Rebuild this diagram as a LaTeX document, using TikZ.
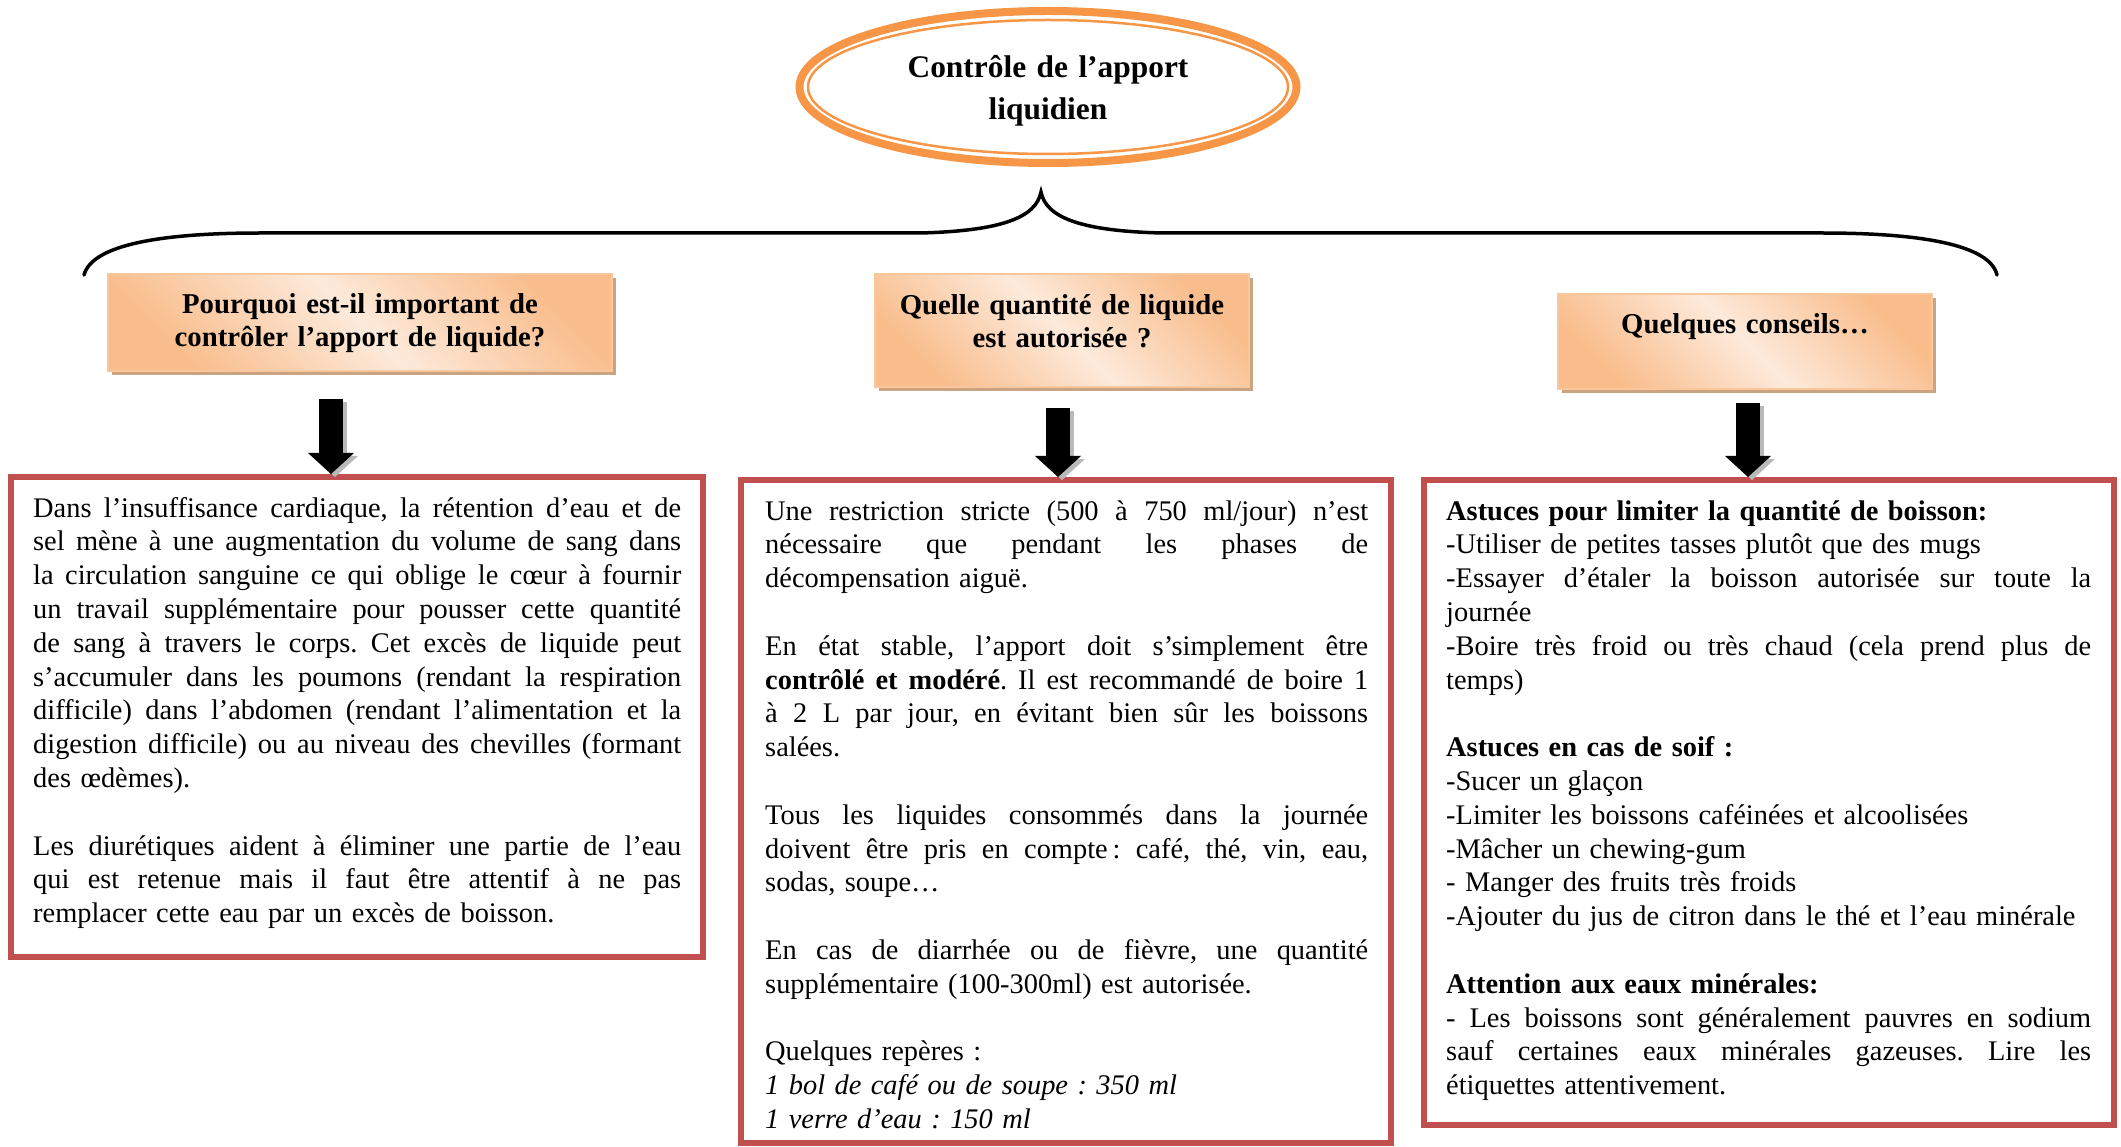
\documentclass[tikz,border=0pt]{standalone}
\usepackage{fontspec}
\setmainfont{Liberation Serif}
\usetikzlibrary{shapes.geometric,arrows.meta,shadows}
\definecolor{redb}{HTML}{C0504D}
\definecolor{orl}{HTML}{F79646}
\definecolor{hdor}{HTML}{F9BD8C}
\definecolor{hdlt}{HTML}{FDEADB}
\definecolor{hdbd}{HTML}{FAC79C}
\definecolor{shd}{HTML}{C49A74}
\newcommand\jline[1]{\noindent\hbox to\hsize{\spaceskip=\fontdimen2\font plus 1fil\relax\xspaceskip=\spaceskip #1}\par}
\newcommand\lline[1]{\noindent #1\par}
\newcommand\bline{\noindent\strut\par}
\newcommand\bodysize{\fontsize{28.4pt}{33.8pt}\selectfont}
\newcommand\hdrsize{\fontsize{28.75pt}{33.8pt}\selectfont}
\newcommand\titlesize{\fontsize{31.4pt}{42pt}\selectfont\bfseries}
\tikzset{
 redbox/.style={draw=redb, line width=6pt, inner sep=0pt},
 hdrbox/.style={draw=hdbd, line width=1.5pt, inner sep=0pt, top color=hdor, bottom color=hdor, middle color=hdlt, shading angle=-45,
   drop shadow={shadow xshift=4pt, shadow yshift=-4pt, fill=shd, opacity=0.9}},
 hdrtext/.style={anchor=north, inner sep=0pt, align=center, font=\hdrsize\bfseries},
 bodytext/.style={anchor=north west, inner sep=0pt, font=\bodysize, execute at begin node={\setlength{\parskip}{0pt}\frenchspacing}},
 blockarr/.style={line width=24pt, -{Triangle[width=46pt,length=21pt,line width=0pt]}},
 arrshadow/.style={blockarr, draw=gray!55, transform canvas={shift={(4pt,-3pt)}}},
 bracestyle/.style={line width=3.5pt, line cap=round},
}
\begin{document}
\begin{tikzpicture}[x=1pt,y=-1pt]
\useasboundingbox (0,0) rectangle (2121,1147);
% title
\node[ellipse, draw=orl, line width=8pt, fill=white, minimum width=497pt, minimum height=152pt, inner sep=0pt] (title) at (1048,87) {};
\draw[orl, line width=2.5pt] (title.center) ellipse [x radius=240, y radius=67];
\node[font=\titlesize, align=center, text width=420pt, anchor=north, inner sep=0pt] (ttl) at (1048,47.6) {\strut Contrôle de l’apport\\liquidien};
% brace
\draw[bracestyle] (84,275) .. controls (92,245) and (160,233) .. (260,233) -- (920,233)
  .. controls (1000,231) and (1036,218) .. (1041,192)
  .. controls (1046,218) and (1082,231) .. (1162,233) -- (1822,233)
  .. controls (1922,233) and (1990,245) .. (1997,275);
% header boxes
\node[hdrbox, minimum width=504pt, minimum height=97pt] (h1) at (360,322.5) {};
\node[hdrbox, minimum width=374pt, minimum height=113pt] (h2) at (1062,330.5) {};
\node[hdrbox, minimum width=374pt, minimum height=95pt] (h3) at (1745,341.5) {};
\node[hdrtext, text width=480pt] (ht1) at (360,289.3) {\strut Pourquoi est-il important de\\contrôler l’apport de liquide?};
\node[hdrtext, text width=370pt] (ht2) at (1062,290.3) {\strut Quelle quantité de liquide\\est autorisée ?};
\node[hdrtext, text width=370pt] (ht3) at (1745,309.3) {\strut Quelques conseils…};
% content boxes
\node[redbox, minimum width=692pt, minimum height=480pt] (c1) at (357,717) {};
\node[redbox, minimum width=650pt, minimum height=663pt] (c2) at (1066,811.5) {};
\node[redbox, minimum width=690pt, minimum height=645pt] (c3) at (1769,802.5) {};
% arrows
\coordinate (a1s) at (331,399);
\coordinate (a2s) at (1058,408);
\coordinate (a3s) at (1748,403);
\draw[arrshadow] (a1s) -- (a1s |- c1.north);
\draw[arrshadow] (a2s) -- (a2s |- c2.north);
\draw[arrshadow] (a3s) -- (a3s |- c3.north);
\draw[blockarr] (a1s) -- (a1s |- c1.north);
\draw[blockarr] (a2s) -- (a2s |- c2.north);
\draw[blockarr] (a3s) -- (a3s |- c3.north);
% texts
\node[bodytext, text width=648pt] (t1) at (33,493.3) {%
\jline{\strut Dans l’insuffisance cardiaque, la rétention d’eau et de}
\jline{sel mène à une augmentation du volume de sang dans}
\jline{la circulation sanguine ce qui oblige le cœur à fournir}
\jline{un travail supplémentaire pour pousser cette quantité}
\jline{de sang à travers le corps. Cet excès de liquide peut}
\jline{s’accumuler dans les poumons (rendant la respiration}
\jline{difficile) dans l’abdomen (rendant l’alimentation et la}
\jline{digestion difficile) ou au niveau des chevilles (formant}
\lline{des œdèmes).}
\bline
\jline{Les diurétiques aident à éliminer une partie de l’eau}
\jline{qui est retenue mais il faut être attentif à ne pas}
\lline{remplacer cette eau par un excès de boisson.}};
\node[bodytext, text width=603pt] (t2) at (765,496.3) {%
\jline{\strut Une restriction stricte (500 à 750 ml/jour) n’est}
\jline{nécessaire que pendant les phases de}
\lline{décompensation aiguë.}
\bline
\jline{En état stable, l’apport doit s’simplement être}
\jline{\textbf{contrôlé et modéré}. Il est recommandé de boire 1}
\jline{à 2 L par jour, en évitant bien sûr les boissons}
\lline{salées.}
\bline
\jline{Tous les liquides consommés dans la journée}
\jline{doivent être pris en compte\,: café, thé, vin, eau,}
\lline{sodas, soupe…}
\bline
\jline{En cas de diarrhée ou de fièvre, une quantité}
\lline{supplémentaire (100-300ml) est autorisée.}
\bline
\lline{Quelques repères :}
\lline{\textit{1 bol de café ou de soupe : 350 ml}}
\lline{\textit{1 verre d’eau : 150 ml}}};
\node[bodytext, text width=645pt] (t3) at (1446,496.3) {%
\lline{\strut\textbf{Astuces pour limiter la quantité de boisson:}}
\lline{-Utiliser de petites tasses plutôt que des mugs}
\jline{-Essayer d’étaler la boisson autorisée sur toute la}
\lline{journée}
\jline{-Boire très froid ou très chaud (cela prend plus de}
\lline{temps)}
\bline
\lline{\textbf{Astuces en cas de soif :}}
\lline{-Sucer un glaçon}
\lline{-Limiter les boissons caféinées et alcoolisées}
\lline{-Mâcher un chewing-gum}
\lline{- Manger des fruits très froids}
\lline{-Ajouter du jus de citron dans le thé et l’eau minérale}
\bline
\lline{\textbf{Attention aux eaux minérales:}}
\jline{- Les boissons sont généralement pauvres en sodium}
\jline{sauf certaines eaux minérales gazeuses. Lire les}
\lline{étiquettes attentivement.}};
\end{tikzpicture}
\end{document}
